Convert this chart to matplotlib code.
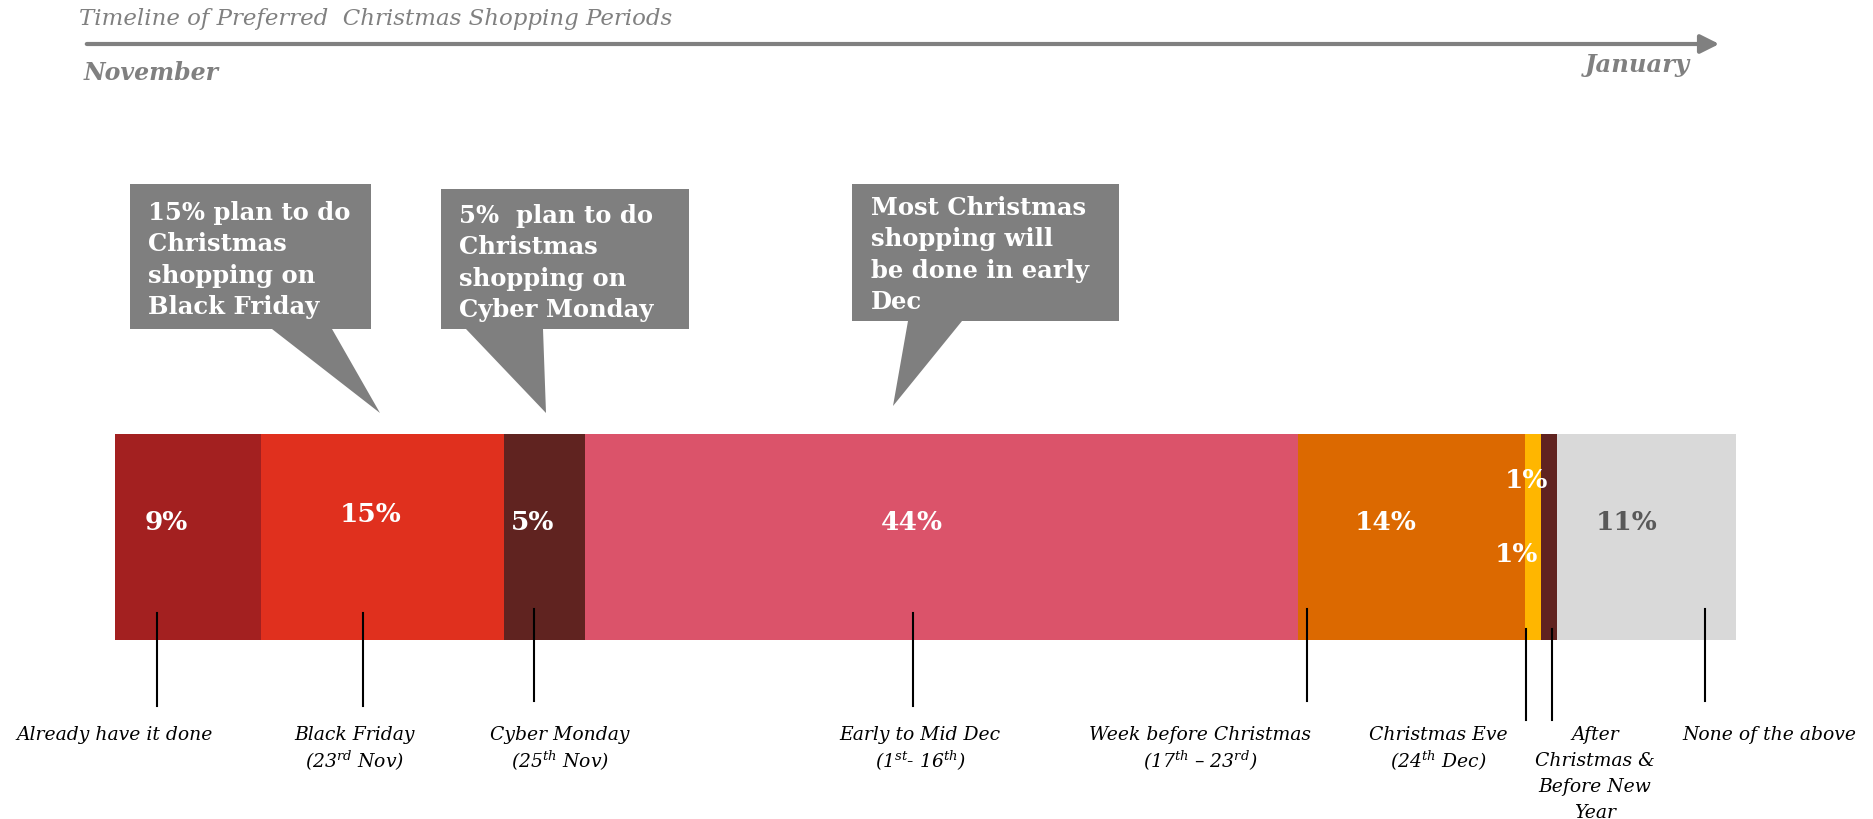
import matplotlib.pyplot as plt
from matplotlib.patches import Polygon

plt.rcParams['font.family'] = ['DejaVu Serif']
plt.rcParams['mathtext.fontset'] = 'dejavuserif'

# share of shoppers per period (%)
periods = [
    "Already have it done",
    "Black Friday\n(23$^{\\mathit{rd}}$ Nov)",
    "Cyber Monday\n(25$^{\\mathit{th}}$ Nov)",
    "Early to Mid Dec\n(1$^{\\mathit{st}}$- 16$^{\\mathit{th}}$)",
    "Week before Christmas\n(17$^{\\mathit{th}}$ – 23$^{\\mathit{rd}}$)",
    "Christmas Eve\n(24$^{\\mathit{th}}$ Dec)",
    "After\nChristmas &\nBefore New\nYear",
    "None of the above",
]
shares = [9, 15, 5, 44, 14, 1, 1, 11]
colors = ["#A32020", "#E0301E", "#602320", "#DB536A",
          "#DC6900", "#FFB600", "#602320", "#D9D9D9"]
label_colors = ["white"] * 7 + ["#595959"]

callouts = [
    "15% plan to do\nChristmas\nshopping on\nBlack Friday",
    "5%  plan to do\nChristmas\nshopping on\nCyber Monday",
    "Most Christmas\nshopping will\nbe done in early\nDec",
]

# layout (pixels / offsets)
W, H = 1873, 820
BAR_X0, BAR_X1 = 114.7, 1735.6
BAR_TOP, BAR_BOT = 435, 641
pct_px = (BAR_X1 - BAR_X0) / 100

lab_dx = [-1.3, -0.7, -0.7, -1.8, -1.6, -0.4, -2.0, -1.2]
lab_y = [523, 515, 523, 523, 523, 481, 555, 523]
lead_frac = [0.29, 0.42, 0.37, 0.46, 0.04, 0.05, 0.7, 0.83]
lead_y = [(614, 707), (614, 707), (610, 702), (614, 707),
          (610, 702), (630, 721), (630, 721), (610, 702)]
name_x = [115, 355, 560, 920, 1200, 1438, 1595, 1769]
NAME_Y0, NAME_DY = 735, 26


def px2x(p):
    return (p - BAR_X0) / pct_px


fig = plt.figure(figsize=(W / 100, H / 100), dpi=100)
ax = fig.add_axes([0, 0, 1, 1])
ax.set_xlim(px2x(0), px2x(W))
ax.set_ylim(H, 0)
ax.axis('off')

lefts = [sum(shares[:i]) for i in range(len(shares))]
ax.barh((BAR_TOP + BAR_BOT) / 2, shares, left=lefts, height=BAR_BOT - BAR_TOP,
        color=colors, edgecolor='none')

for i, s in enumerate(shares):
    cx = lefts[i] + s / 2 + lab_dx[i]
    ax.text(cx, lab_y[i], f"{s}%", ha='center', va='center', fontsize=19,
            fontweight='bold', color=label_colors[i])
    lx = lefts[i] + s * lead_frac[i]
    ax.plot([lx, lx], lead_y[i], color='black', lw=1.5)
    # one text per line so mathtext superscripts don't stretch the spacing
    for j, line in enumerate(periods[i].split('\n')):
        ax.text(px2x(name_x[i]), NAME_Y0 + j * NAME_DY, line, ha='center',
                va='center', fontsize=13.5, style='italic')

# speech-bubble callouts
boxes = [(130, 185, 371, 330), (441, 190, 689, 330), (852, 185, 1119, 322)]
tails = [[(272, 330), (332, 330), (380, 414)],
         [(466, 330), (543, 330), (546, 414)],
         [(908, 322), (962, 322), (893, 407)]]
text_pos = [(148, 260), (459, 263), (871, 255)]
for (x0, y0, x1, y1), tail, (tx, ty), txt in zip(boxes, tails, text_pos, callouts):
    rect = [(x0, y0), (x1, y0), (x1, y1), (x0, y1)]
    ax.add_patch(Polygon([(px2x(a), b) for a, b in rect], closed=True,
                         facecolor='#7F7F7F', edgecolor='none'))
    ax.add_patch(Polygon([(px2x(a), b) for a, b in tail], closed=True,
                         facecolor='#7F7F7F', edgecolor='none'))
    ax.text(px2x(tx), ty, txt, ha='left', va='center', fontsize=17.5,
            fontweight='bold', color='white', linespacing=1.38)

# timeline header
ax.text(px2x(79), 19, "Timeline of Preferred  Christmas Shopping Periods",
        ha='left', va='center', fontsize=16.5, style='italic', color='#808080')
ax.annotate('', xy=(px2x(1722), 45), xytext=(px2x(84), 45),
            arrowprops=dict(arrowstyle='-|>', color='#808080', lw=3,
                            mutation_scale=28))
ax.text(px2x(84), 73, "November", ha='left', va='center', fontsize=17,
        style='italic', fontweight='bold', color='#808080')
ax.text(px2x(1690), 65, "January", ha='right', va='center', fontsize=17.5,
        style='italic', fontweight='bold', color='#808080')

fig.savefig("out.png", dpi=100)
